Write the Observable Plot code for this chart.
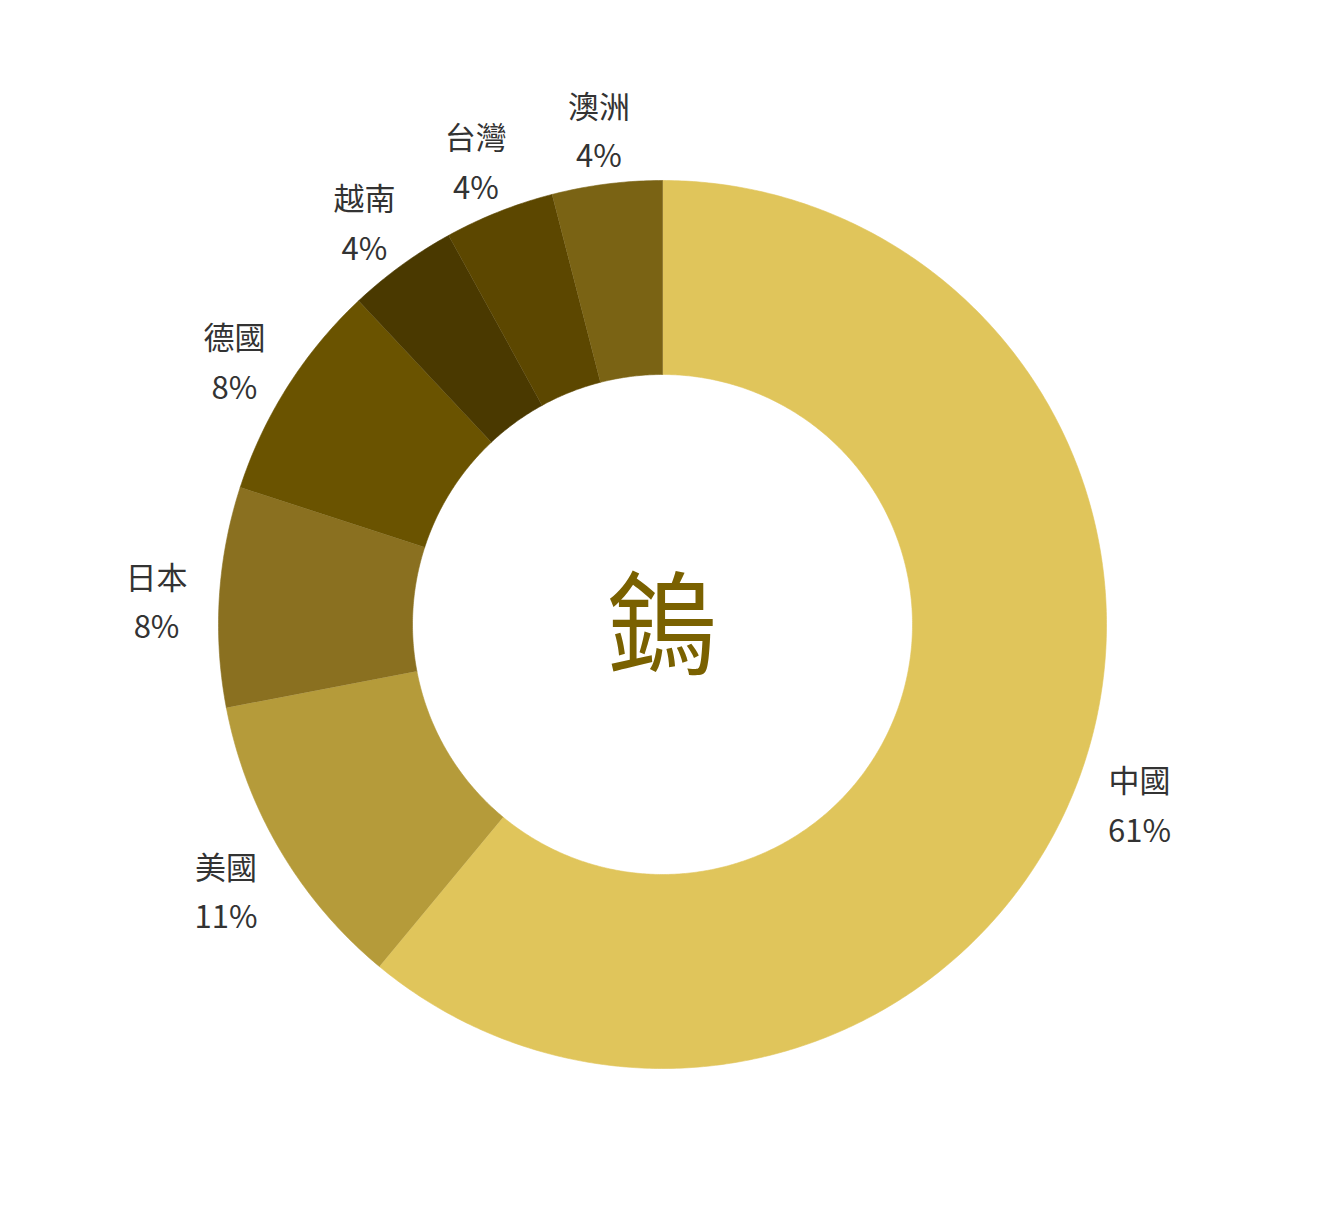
<!DOCTYPE html>
<html>
<head>
<meta charset="utf-8">
<script src="https://cdn.jsdelivr.net/npm/d3@7"></script>
<script src="https://cdn.jsdelivr.net/npm/@observablehq/plot@0.6"></script>
<style>
  html, body { margin: 0; padding: 0; background: #fff; }
</style>
</head>
<body>
<div id="chart"></div>
<script>
const countries = ["中國", "美國", "日本", "德國", "越南", "台灣", "澳洲"];
const shares = [61, 11, 8, 8, 4, 4, 4];
const colors = ["#E0C55B", "#B59B3A", "#8A7020", "#6A5300", "#4A3900", "#5C4700", "#7A6314"];
const centerLabel = "鎢";

const W = 1325, H = 1206;
const cx = 662, cy = 624;
const rOuter = 444, rInner = 250, rLabel = 507;

const total = d3.sum(shares);
let acc = 0;
const slices = countries.map((name, i) => {
  const a0 = acc / total * 2 * Math.PI;
  acc += shares[i];
  const a1 = acc / total * 2 * Math.PI;
  return {name, value: shares[i], a0, a1, mid: (a0 + a1) / 2};
});

// polygon outline of each ring slice, derived from the data angles
const poly = [];
for (const s of slices) {
  const n = Math.max(2, Math.ceil((s.a1 - s.a0) / (Math.PI / 360)));
  for (let k = 0; k <= n; k++) {
    const a = s.a0 + (s.a1 - s.a0) * k / n;
    poly.push({name: s.name, x: rOuter * Math.sin(a), y: rOuter * Math.cos(a)});
  }
  for (let k = n; k >= 0; k--) {
    const a = s.a0 + (s.a1 - s.a0) * k / n;
    poly.push({name: s.name, x: rInner * Math.sin(a), y: rInner * Math.cos(a)});
  }
}

const labels = slices.map(s => ({
  text: `${s.name}\n${s.value}%`,
  x: rLabel * Math.sin(s.mid),
  y: rLabel * Math.cos(s.mid)
}));

const chart = Plot.plot({
  width: W,
  height: H,
  margin: 0,
  x: {domain: [-cx, W - cx], range: [0, W], axis: null},
  y: {domain: [-(H - cy), cy], range: [H, 0], axis: null},
  color: {domain: countries, range: colors},
  style: {background: "#fff"},
  marks: [
    Plot.line(poly, {x: "x", y: "y", z: "name", fill: "name", stroke: "name", strokeWidth: 0.6, curve: "linear"}),
    Plot.text(labels, {
      x: "x", y: "y", text: "text", dy: 5,
      fontSize: 31, lineHeight: 1.6, fill: "#333",
      fontFamily: "'Noto Sans CJK TC', 'Noto Sans', sans-serif",
      textAnchor: "middle", lineAnchor: "middle"
    }),
    Plot.text([centerLabel], {
      x: () => 0, y: () => 0, text: d => d, dy: 6,
      fontSize: 112, fontWeight: 400, fill: "#7A6100",
      fontFamily: "'Noto Sans CJK TC', sans-serif",
      textAnchor: "middle", lineAnchor: "middle"
    })
  ]
});
document.getElementById("chart").appendChild(chart);
</script>
</body>
</html>
